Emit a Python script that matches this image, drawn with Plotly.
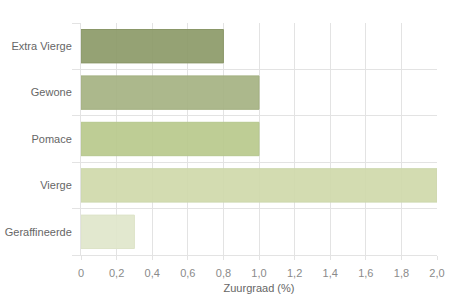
import plotly.graph_objects as go

categories = ["Extra Vierge", "Gewone", "Pomace", "Vierge", "Geraffineerde"]
values = [0.8, 1.0, 1.0, 2.0, 0.3]
fill_colors = ["rgba(140,154,104,0.92)", "rgba(165,178,130,0.92)", "rgba(184,201,140,0.92)",
               "rgba(207,217,170,0.92)", "rgba(224,230,203,0.92)"]
line_colors = ["#8a9768", "#a3b080", "#b6c78e", "#ccd7ae", "#dde3c8"]
x_tickvals = [0, 0.2, 0.4, 0.6, 0.8, 1.0, 1.2, 1.4, 1.6, 1.8, 2.0]
x_ticktext = ["0", "0,2", "0,4", "0,6", "0,8", "1,0", "1,2", "1,4", "1,6", "1,8", "2,0"]

fig = go.Figure(go.Bar(
    x=values, y=categories, orientation="h",
    marker=dict(color=fill_colors, line=dict(color=line_colors, width=1)),
    width=0.72,
))

fig.update_layout(
    width=450, height=297,
    margin=dict(l=81, r=13, t=23, b=42, autoexpand=False),
    paper_bgcolor="white", plot_bgcolor="white",
    font=dict(family="Liberation Sans, Arial, sans-serif", size=11, color="#666666"),
    showlegend=False,
    separators=",.",
)
fig.update_xaxes(
    range=[0, 2.0], tickvals=x_tickvals, ticktext=x_ticktext,
    showgrid=True, gridcolor="#e3e3e3", gridwidth=1,
    showline=True, linecolor="#e3e3e3", zeroline=False,
    ticks="outside", ticklen=4, tickcolor="#e3e3e3",
    tickfont=dict(color="#8a8a8a"), ticklabelstandoff=4,
    title=dict(text="Zuurgraad (%)", font=dict(size=11, color="#666666"), standoff=6),
    automargin=False, fixedrange=True,
)
fig.update_yaxes(
    type="category", categoryorder="array", categoryarray=categories[::-1],
    tickson="boundaries", showgrid=True, gridcolor="#e3e3e3", gridwidth=1,
    showline=True, linecolor="#e3e3e3", zeroline=False,
    ticks="outside", ticklen=8, tickcolor="#e3e3e3",
    ticklabelstandoff=6,
    range=[-0.5, 4.5],
    automargin=False, fixedrange=True,
)

fig.write_html("out.html")
